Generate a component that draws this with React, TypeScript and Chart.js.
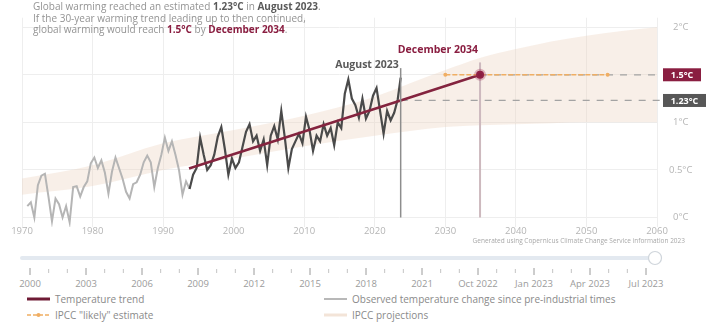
import React, { useEffect, useRef } from "react";
import { Chart, registerables } from "chart.js";

Chart.register(...registerables);

const FONT = '"Open Sans", "DejaVu Sans", sans-serif';

// Axis ticks
const xTickYears = [1970, 1980, 1990, 2000, 2010, 2020, 2030, 2040, 2050, 2060];
const yTickValues = [0, 0.5, 1, 1.5, 2];

// Observed temperature change since pre-industrial times (°C), half-year steps
const observedStep = 0.5;
const earlyObservedStart = 1970.75;
const earlyObserved = [
  0.12, 0.16, 0.0, 0.34, 0.44, 0.46, 0.22, -0.04, 0.2, 0.14, 0.0, 0.12,
  -0.05, 0.32, 0.33, 0.22, 0.32, 0.38, 0.57, 0.63, 0.52, 0.6, 0.47, 0.25,
  0.48, 0.63, 0.52, 0.41, 0.27, 0.2, 0.35, 0.37, 0.45, 0.58, 0.65, 0.58,
  0.32, 0.52, 0.66, 0.84, 0.7, 0.8, 0.66, 0.5, 0.24, 0.38, 0.3,
];
const recentObservedStart = 1993.75;
const recentObserved = [
  0.3, 0.45, 0.52, 0.84, 0.66, 0.5, 0.55, 0.66, 0.85, 0.95, 0.72, 0.45,
  0.62, 0.52, 0.58, 0.74, 0.9, 0.98, 0.8, 0.86, 0.7, 0.82, 0.55, 0.86,
  0.96, 0.82, 1.12, 0.84, 0.52, 0.72, 0.8, 0.88, 0.78, 1.06, 0.92, 0.7,
  0.86, 0.8, 0.98, 0.86, 0.94, 0.76, 1.0, 0.94, 1.3, 1.45, 1.25, 1.18,
  1.05, 1.25, 1.04, 1.12, 1.28, 1.36, 1.12, 0.88, 1.12, 1.02, 1.1, 1.24,
];
const latestObservedYear = 2023.67; // August 2023
const latestObserved = 1.47;

// 30-year warming trend and its continuation
const trendYears = [1993.67, 2023.67, 2034.92];
const trendValues = [0.515, 1.23, 1.5];
const trendAug2023 = 1.23;
const target = 1.5;
const targetYear = 2034.92; // December 2034

// IPCC "likely" window for reaching 1.5°C
const likelyYears = [2030, 2053];

// IPCC projections band
const bandYears = [1970, 1980, 1990, 2000, 2010, 2020, 2025, 2030, 2035, 2040, 2045, 2050, 2055, 2060];
const bandLower = [0.24, 0.33, 0.5, 0.62, 0.75, 0.86, 0.91, 0.95, 0.97, 0.98, 0.99, 1.0, 1.0, 1.0];
const bandUpper = [0.41, 0.55, 0.78, 0.92, 1.07, 1.27, 1.41, 1.55, 1.68, 1.77, 1.85, 1.91, 1.96, 2.0];

// Time slider labels
const sliderLabels = [
  "2000", "2003", "2006", "2009", "2012", "2015", "2018", "2021",
  "Oct 2022", "Jan 2023", "Apr 2023", "Jul 2023",
];

const MAROON = "#8a1e41";
const DARK = "#5a5a5a";
const LIGHT_OBS = "#b5b5b5";
const BAND = "rgba(236, 210, 190, 0.36)";
const ORANGE = "#f0ae63";

const toPoints = (xs: number[], ys: number[]) => xs.map((x, i) => ({ x, y: ys[i] }));
const stepPoints = (start: number, ys: number[]) =>
  ys.map((y, i) => ({ x: start + i * observedStep, y }));

const referenceLines = {
  id: "referenceLines",
  afterDatasetDraw(chart: any, args: any) {
    if (args.index !== 1) return; // right after the projections band
    const { ctx, scales } = chart;
    const xs = scales.x;
    const ys = scales.y;
    const right = chart.chartArea.right + 4;
    ctx.save();
    // dashed level guides
    ctx.setLineDash([7, 7]);
    ctx.lineWidth = 1.3;
    ctx.strokeStyle = "#a3a3a3";
    ctx.beginPath();
    ctx.moveTo(xs.getPixelForValue(latestObservedYear), ys.getPixelForValue(trendAug2023));
    ctx.lineTo(right, ys.getPixelForValue(trendAug2023));
    ctx.moveTo(xs.getPixelForValue(targetYear), ys.getPixelForValue(target));
    ctx.lineTo(right, ys.getPixelForValue(target));
    ctx.stroke();
    ctx.setLineDash([]);
    // December 2034 marker line
    ctx.strokeStyle = "#cdb9be";
    ctx.lineWidth = 2;
    ctx.beginPath();
    const xd = xs.getPixelForValue(targetYear);
    ctx.moveTo(xd, ys.getPixelForValue(0));
    ctx.lineTo(xd, ys.getPixelForValue(1.63));
    ctx.stroke();
    ctx.restore();
  },
  afterDatasetsDraw(chart: any) {
    const { ctx, scales } = chart;
    const xs = scales.x;
    const ys = scales.y;
    ctx.save();
    // August 2023 marker line
    const xa = xs.getPixelForValue(latestObservedYear);
    ctx.strokeStyle = "#8d8d8d";
    ctx.lineWidth = 1.5;
    ctx.beginPath();
    ctx.moveTo(xa, ys.getPixelForValue(0));
    ctx.lineTo(xa, ys.getPixelForValue(1.57));
    ctx.stroke();

    ctx.textAlign = "right";
    ctx.textBaseline = "middle";
    ctx.font = `bold 10.5px ${FONT}`;
    ctx.fillStyle = DARK;
    ctx.fillText("August 2023", xa - 2, ys.getPixelForValue(1.6));
    ctx.fillStyle = MAROON;
    ctx.fillText("December 2034", xs.getPixelForValue(targetYear) - 2, ys.getPixelForValue(1.76));

    // value badges on the right
    const badge = (value: number, text: string, color: string, w: number) => {
      const y = ys.getPixelForValue(value);
      const x0 = chart.chartArea.right + 6;
      ctx.fillStyle = color;
      ctx.fillRect(x0, y - 6.5, w, 13);
      ctx.fillStyle = "#ffffff";
      ctx.textAlign = "center";
      ctx.font = `bold 9px ${FONT}`;
      ctx.fillText(text, x0 + w / 2, y + 0.5);
    };
    badge(target, "1.5°C", MAROON, 38);
    badge(trendAug2023, "1.23°C", "#575757", 43);

    // source note
    ctx.textAlign = "right";
    ctx.font = `6.5px ${FONT}`;
    ctx.fillStyle = "#a8a8a8";
    ctx.fillText(
      "Generated using Copernicus Climate Change Service information 2023",
      685,
      chart.chartArea.bottom + 14
    );
    ctx.restore();
  },
};

function TempChart() {
  const ref = useRef<HTMLCanvasElement>(null);
  useEffect(() => {
    if (!ref.current) return;
    const chart = new Chart(ref.current, {
      type: "line",
      data: {
        datasets: [
          {
            data: toPoints(bandYears, bandLower),
            borderWidth: 0,
            pointRadius: 0,
            fill: false,
            cubicInterpolationMode: "monotone",
            order: 10,
          },
          {
            data: toPoints(bandYears, bandUpper),
            borderWidth: 0,
            pointRadius: 0,
            fill: "-1",
            backgroundColor: BAND,
            cubicInterpolationMode: "monotone",
            order: 9,
          },
          {
            data: stepPoints(earlyObservedStart, earlyObserved).concat([
              { x: recentObservedStart, y: recentObserved[0] },
            ]),
            borderColor: LIGHT_OBS,
            borderWidth: 2,
            pointRadius: 0,
            order: 5,
          },
          {
            data: stepPoints(recentObservedStart, recentObserved).concat([
              { x: latestObservedYear, y: latestObserved },
            ]),
            borderColor: "#4a4a4a",
            borderWidth: 2.2,
            pointRadius: 0,
            order: 4,
          },
          {
            data: toPoints(trendYears, trendValues),
            borderColor: "#84243f",
            borderWidth: 2.5,
            pointRadius: 0,
            order: 3,
          },
          {
            data: likelyYears.map((x) => ({ x, y: target })),
            borderColor: ORANGE,
            borderWidth: 1.6,
            borderDash: [5, 2],
            pointRadius: 2,
            pointBackgroundColor: ORANGE,
            pointBorderWidth: 0,
            order: 2,
          },
          {
            data: [{ x: targetYear, y: target }],
            pointRadius: 4,
            pointBackgroundColor: MAROON,
            pointBorderColor: "rgba(160, 40, 80, 0.3)",
            pointBorderWidth: 4,
            showLine: false,
            order: 1,
          },
        ],
      },
      options: {
        animation: false,
        responsive: false,
        events: [],
        layout: { padding: { left: 22, right: 4, top: 10, bottom: 7 } },
        plugins: { legend: { display: false }, tooltip: { enabled: false } },
        scales: {
          x: {
            type: "linear",
            min: 1970,
            max: 2060,
            afterBuildTicks: (s: any) => {
              s.ticks = xTickYears.map((value) => ({ value }));
            },
            afterFit: (s: any) => {
              s.height = 16;
            },
            ticks: {
              callback: (v: any) => String(v),
              color: "#b5b5b5",
              font: { family: FONT, size: 9.5 },
              padding: -1,
              maxRotation: 0,
            },
            grid: { color: "#eeeeee", drawTicks: false },
            border: { display: false },
          },
          y: {
            position: "right",
            min: -0.1,
            max: 2.1,
            afterBuildTicks: (s: any) => {
              s.ticks = yTickValues.map((value) => ({ value }));
            },
            afterFit: (s: any) => {
              s.width = 46;
            },
            ticks: {
              callback: (v: any) => `${v}°C`,
              color: "#b5b5b5",
              font: { family: FONT, size: 9.5 },
              crossAlign: "center",
              padding: 12,
            },
            grid: { color: "#eeeeee", drawTicks: false },
            border: { display: false },
          },
        },
      },
      plugins: [referenceLines],
    });
    return () => chart.destroy();
  }, []);
  return <canvas ref={ref} width={707} height={250} style={{ position: "absolute", left: 0, top: 0 }} />;
}

function Slider() {
  const first = 30;
  const gap = 56;
  const ticks: React.ReactNode[] = [];
  sliderLabels.forEach((_, i) => {
    const x = first + i * gap;
    ticks.push(<line key={`M${i}`} x1={x} x2={x} y1={18} y2={25} stroke="#9a9a9a" strokeWidth={1} />);
    if (i < sliderLabels.length - 1) {
      [1, 2].forEach((k) => {
        const xm = x + (gap * k) / 3;
        ticks.push(<line key={`m${i}-${k}`} x1={xm} x2={xm} y1={19} y2={23} stroke="#c4c4c4" strokeWidth={1} />);
      });
    }
  });
  return (
    <svg width={707} height={44} style={{ position: "absolute", left: 0, top: 250 }}>
      <line x1={22} x2={655} y1={8} y2={8} stroke="#e3e9f0" strokeWidth={4} strokeLinecap="round" />
      {ticks}
      {sliderLabels.map((t, i) => (
        <text
          key={t}
          x={first + i * gap}
          y={37}
          textAnchor="middle"
          fontFamily={FONT}
          fontSize={9.5}
          fill="#9b9b9b"
        >
          {t}
        </text>
      ))}
      <circle cx={655} cy={8} r={6.5} fill="#ffffff" stroke="#cfd5db" strokeWidth={1.2} />
    </svg>
  );
}

function LegendItem({ x, y, swatch, label }: { x: number; y: number; swatch: React.ReactNode; label: string }) {
  return (
    <div style={{ position: "absolute", left: x, top: y - 7, height: 14, display: "flex", alignItems: "center" }}>
      <svg width={24} height={14} style={{ marginRight: 4 }}>
        {swatch}
      </svg>
      <span style={{ fontFamily: FONT, fontSize: 10, color: "#8a8a8a", whiteSpace: "nowrap" }}>{label}</span>
    </div>
  );
}

export default function App() {
  const bold = { fontWeight: 700, color: DARK };
  const boldMaroon = { fontWeight: 700, color: MAROON };
  return (
    <div style={{ position: "fixed", left: 0, top: 0, width: 707, height: 326, background: "#ffffff", overflow: "hidden" }}>
      <TempChart />
      <div
        style={{
          position: "absolute",
          left: 33,
          top: 1,
          fontFamily: FONT,
          fontSize: 10,
          lineHeight: "11.5px",
          color: "#939393",
          whiteSpace: "nowrap",
        }}
      >
        <div>
          Global warming reached an estimated <span style={bold}>1.23°C</span> in{" "}
          <span style={bold}>August 2023</span>.
        </div>
        <div>If the 30-year warming trend leading up to then continued,</div>
        <div>
          global warming would reach <span style={boldMaroon}>1.5°C</span> by{" "}
          <span style={boldMaroon}>December 2034</span>.
        </div>
      </div>
      <Slider />
      <LegendItem
        x={27}
        y={299}
        label="Temperature trend"
        swatch={<line x1={0} x2={23} y1={7} y2={7} stroke="#6e1a35" strokeWidth={3} />}
      />
      <LegendItem
        x={27}
        y={315}
        label={'IPCC "likely" estimate'}
        swatch={
          <g>
            <line x1={0} x2={23} y1={7} y2={7} stroke={ORANGE} strokeWidth={1.5} strokeDasharray="4 2" />
            <circle cx={11.5} cy={7} r={2} fill={ORANGE} />
          </g>
        }
      />
      <LegendItem
        x={324}
        y={299}
        label="Observed temperature change since pre-industrial times"
        swatch={<line x1={0} x2={23} y1={7} y2={7} stroke="#a0a0a0" strokeWidth={1.5} />}
      />
      <LegendItem
        x={324}
        y={315}
        label="IPCC projections"
        swatch={<line x1={0} x2={23} y1={7} y2={7} stroke="#f3e4d8" strokeWidth={3} />}
      />
    </div>
  );
}
